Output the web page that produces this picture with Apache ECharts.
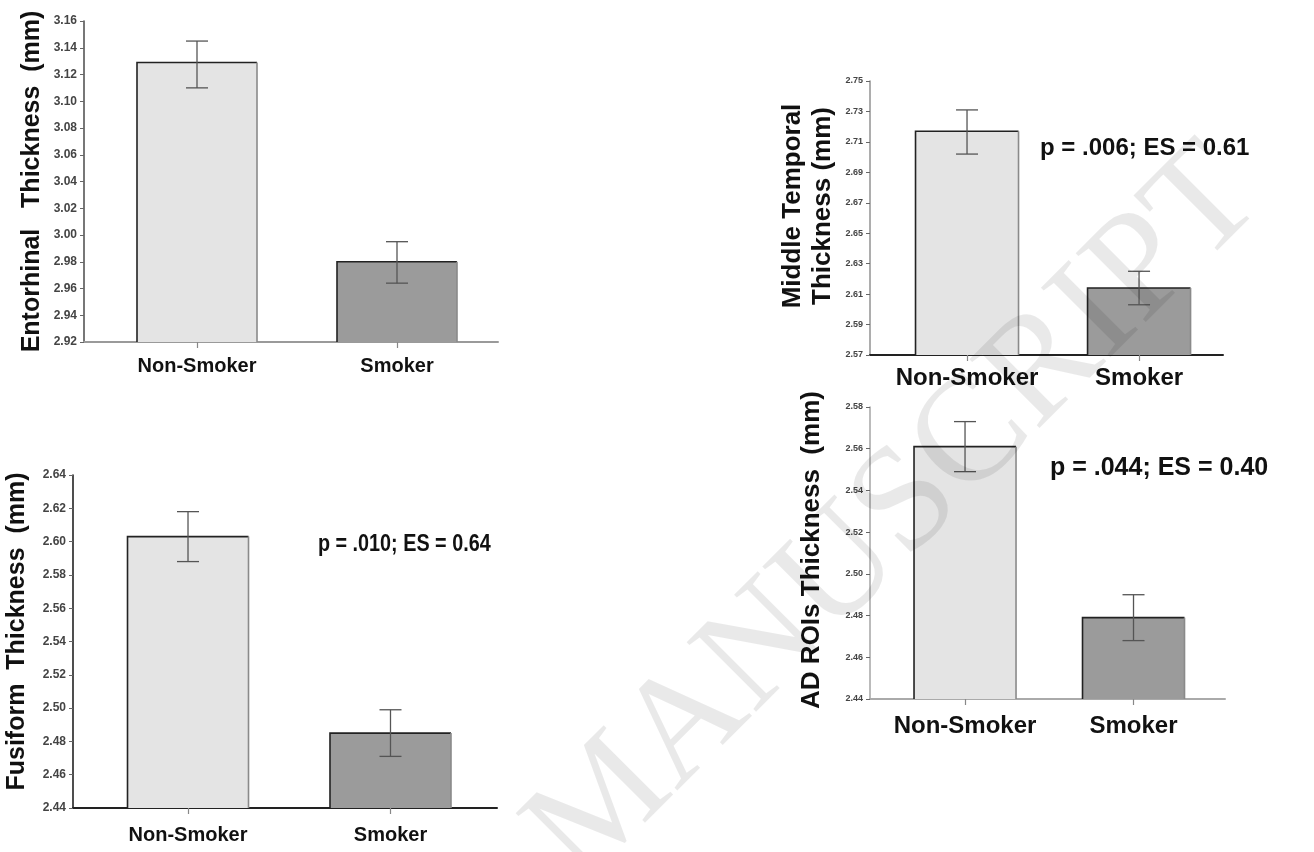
<!DOCTYPE html>
<html>
<head>
<meta charset="utf-8">
<script src="https://cdn.jsdelivr.net/npm/echarts@6/dist/echarts.min.js"></script>
<style>
  html, body { margin: 0; padding: 0; background: #fff; }
  #chart { width: 1314px; height: 852px; }
</style>
</head>
<body>
<div id="chart"></div>
<script>
var categories = ['Non-Smoker', 'Smoker'];

var entorhinalMean = [3.129, 2.980];
var entorhinalLow = [3.110, 2.964];
var entorhinalHigh = [3.145, 2.995];
var entorhinalTicks = [2.92, 2.94, 2.96, 2.98, 3.00, 3.02, 3.04, 3.06, 3.08, 3.10, 3.12, 3.14, 3.16];

var middleTemporalMean = [2.717, 2.614];
var middleTemporalLow = [2.702, 2.603];
var middleTemporalHigh = [2.731, 2.625];
var middleTemporalTicks = [2.57, 2.59, 2.61, 2.63, 2.65, 2.67, 2.69, 2.71, 2.73, 2.75];

var fusiformMean = [2.603, 2.485];
var fusiformLow = [2.588, 2.471];
var fusiformHigh = [2.618, 2.499];
var fusiformTicks = [2.44, 2.46, 2.48, 2.50, 2.52, 2.54, 2.56, 2.58, 2.60, 2.62, 2.64];

var adRoisMean = [2.561, 2.479];
var adRoisLow = [2.549, 2.468];
var adRoisHigh = [2.573, 2.490];
var adRoisTicks = [2.44, 2.46, 2.48, 2.50, 2.52, 2.54, 2.56, 2.58];

var FONT = '"Liberation Sans", Arial, sans-serif';
var barFill = ['#e4e4e4', '#9b9b9b'];

// one entry per small chart: layout + style, data comes from the arrays above
var panels = [
  {
    grid: { left: 84, top: 21, width: 414, height: 321 },
    xMin: -0.565, xMax: 1.505, barWidth: 120,
    title: 'Entorhinal   Thickness  (mm)', titleSize: 25, titleGap: 38, titleShift: 0,
    tickSize: 12, yLine: '#555', xLine: '#9a9a9a', xLabelSize: 20, xLabelMargin: 14,
    mean: entorhinalMean, low: entorhinalLow, high: entorhinalHigh, ticks: entorhinalTicks
  },
  {
    grid: { left: 870, top: 81, width: 353, height: 274 },
    xMin: -0.564, xMax: 1.488, barWidth: 103,
    title: 'Middle Temporal\nThickness (mm)', titleSize: 26, titleGap: 32, titleShift: 24,
    tickSize: 9, yLine: '#999', xLine: '#222', xLabelSize: 24, xLabelMargin: 11,
    mean: middleTemporalMean, low: middleTemporalLow, high: middleTemporalHigh, ticks: middleTemporalTicks
  },
  {
    grid: { left: 73, top: 475, width: 424, height: 333 },
    xMin: -0.568, xMax: 1.526, barWidth: 121,
    title: 'Fusiform  Thickness  (mm)', titleSize: 25, titleGap: 42, titleShift: 20,
    tickSize: 12, yLine: '#222', xLine: '#222', xLabelSize: 20, xLabelMargin: 17,
    mean: fusiformMean, low: fusiformLow, high: fusiformHigh, ticks: fusiformTicks
  },
  {
    grid: { left: 870, top: 407, width: 355, height: 292 },
    xMin: -0.564, xMax: 1.543, barWidth: 102,
    title: 'AD ROIs Thickness  (mm)', titleSize: 26, titleGap: 43, titleShift: 6,
    tickSize: 9, yLine: '#aaa', xLine: '#aaa', xLabelSize: 24, xLabelMargin: 15,
    mean: adRoisMean, low: adRoisLow, high: adRoisHigh, ticks: adRoisTicks
  }
];

var pLabels = [
  { text: 'p = .006; ES = 0.61', x: 1040, y: 148, size: 24, scaleX: 1 },
  { text: 'p = .010; ES = 0.64', x: 318, y: 545, size: 23, scaleX: 0.86 },
  { text: 'p = .044; ES = 0.40', x: 1050, y: 468, size: 25, scaleX: 1 }
];

function barRenderer(panel) {
  return function renderBar(params, api) {
    var x = api.value(0);
    var top = api.coord([x, api.value(1)]);
    var base = api.coord([x, panel.ticks[0]]);
    var half = panel.barWidth / 2;
    var l = top[0] - half;
    var r = top[0] + half;
    return {
      type: 'group',
      children: [
        { type: 'rect', shape: { x: l, y: top[1], width: panel.barWidth, height: base[1] - top[1] },
          style: { fill: barFill[params.dataIndex] } },
        { type: 'polyline', shape: { points: [[l, base[1]], [l, top[1]], [r, top[1]]] },
          style: { stroke: '#222', lineWidth: 1.6, fill: 'none' } },
        { type: 'line', shape: { x1: r, y1: top[1], x2: r, y2: base[1] },
          style: { stroke: '#8a8a8a', lineWidth: 1.6 } }
      ]
    };
  };
}

function errorRenderer(params, api) {
  var x = api.value(0);
  var lo = api.coord([x, api.value(1)]);
  var hi = api.coord([x, api.value(2)]);
  var cap = 11;
  var st = { stroke: '#555', lineWidth: 1.3 };
  return {
    type: 'group',
    children: [
      { type: 'line', shape: { x1: lo[0], y1: lo[1], x2: hi[0], y2: hi[1] }, style: st },
      { type: 'line', shape: { x1: hi[0] - cap, y1: hi[1], x2: hi[0] + cap, y2: hi[1] }, style: st },
      { type: 'line', shape: { x1: lo[0] - cap, y1: lo[1], x2: lo[0] + cap, y2: lo[1] }, style: st }
    ]
  };
}

var grids = [];
var xAxes = [];
var yAxes = [];
var series = [];

panels.forEach(function each(p, i) {
  grids.push(p.grid);
  xAxes.push({
    type: 'value', gridIndex: i, min: p.xMin, max: p.xMax,
    splitLine: { show: false },
    axisLine: { onZero: false, lineStyle: { color: p.xLine, width: 2 } },
    axisTick: { customValues: [0, 1], length: 6, lineStyle: { color: '#888', width: 1.2 } },
    axisLabel: {
      customValues: [0, 1], margin: p.xLabelMargin,
      fontFamily: FONT, fontWeight: 'bold', fontSize: p.xLabelSize, color: '#111',
      formatter: function fmt(v) { return categories[Math.round(v)]; }
    }
  });
  yAxes.push({
    type: 'value', gridIndex: i, min: p.ticks[0], max: p.ticks[p.ticks.length - 1],
    splitLine: { show: false },
    axisLine: { show: true, onZero: false, lineStyle: { color: p.yLine, width: 1.6 } },
    axisTick: { show: true, customValues: p.ticks, length: 4, lineStyle: { color: '#666' } },
    axisLabel: {
      customValues: p.ticks, margin: 7,
      fontFamily: FONT, fontWeight: 'bold', fontSize: p.tickSize, color: '#444',
      formatter: function fmt(v) { return v.toFixed(2); }
    },
    name: p.title, nameLocation: 'middle', nameRotate: 90, nameGap: p.titleGap,
    nameTextStyle: {
      fontFamily: FONT, fontWeight: 'bold', fontSize: p.titleSize, color: '#111',
      lineHeight: p.titleSize * 1.15, align: 'center',
      padding: [0, 0, 0, p.titleShift]
    }
  });
  series.push({
    type: 'custom', xAxisIndex: i, yAxisIndex: i, clip: false, z: 2,
    renderItem: barRenderer(p),
    data: p.mean.map(function m(v, k) { return [k, v]; })
  });
  series.push({
    type: 'custom', xAxisIndex: i, yAxisIndex: i, clip: false, z: 3,
    renderItem: errorRenderer,
    encode: { x: 0, y: [1, 2] },
    data: p.mean.map(function m(v, k) { return [k, p.low[k], p.high[k]]; })
  });
});

var graphics = pLabels.map(function each(t) {
  return {
    type: 'text', x: t.x, y: t.y, scaleX: t.scaleX, silent: true,
    style: {
      text: t.text, font: 'bold ' + t.size + 'px ' + FONT, fill: '#111',
      align: 'left', verticalAlign: 'middle'
    }
  };
});

graphics.push({
  type: 'text', x: 896, y: 516, rotation: Math.PI / 4, z: 100, silent: true,
  style: {
    text: 'MANUSCRIPT', font: '150px "Liberation Serif", "DejaVu Serif", serif',
    fill: 'rgba(0,0,0,0.085)',
    align: 'center', verticalAlign: 'middle'
  }
});

var chart = echarts.init(document.getElementById('chart'));
chart.setOption({
  animation: false,
  backgroundColor: '#fff',
  grid: grids,
  xAxis: xAxes,
  yAxis: yAxes,
  series: series,
  graphic: graphics
});
</script>
</body>
</html>
